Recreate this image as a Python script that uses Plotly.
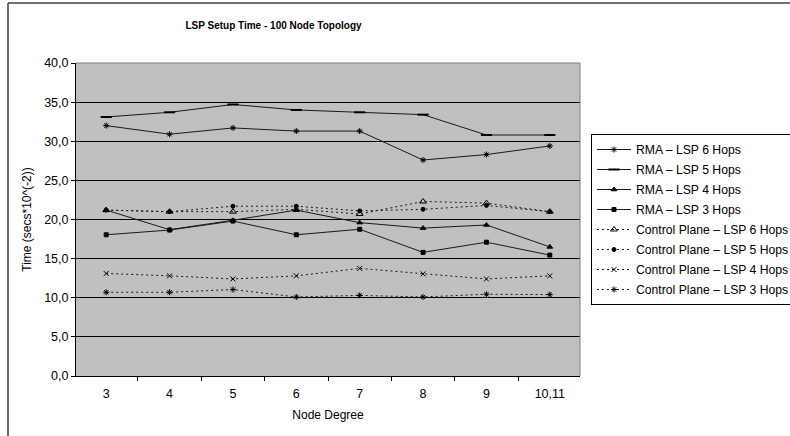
import plotly.graph_objects as go

categories = ["3", "4", "5", "6", "7", "8", "9", "10,11"]

rma_6 = [32.0, 30.9, 31.7, 31.3, 31.3, 27.6, 28.3, 29.4]
rma_5 = [33.1, 33.7, 34.7, 34.0, 33.7, 33.4, 30.8, 30.8]
rma_4 = [21.2, 18.7, 19.9, 21.2, 19.6, 18.9, 19.3, 16.5]
rma_3 = [18.05, 18.65, 19.8, 18.05, 18.75, 15.8, 17.1, 15.45]
cp_6 = [21.2, 21.0, 21.0, 21.3, 20.7, 22.3, 22.1, 21.0]
cp_5 = [21.2, 21.0, 21.7, 21.7, 21.1, 21.3, 21.8, 21.0]
cp_4 = [13.1, 12.8, 12.4, 12.8, 13.75, 13.05, 12.4, 12.8]
cp_3 = [10.7, 10.7, 11.05, 10.1, 10.3, 10.1, 10.45, 10.4]

series = [
    ("RMA – LSP 6 Hops", rma_6, "solid", "asterisk-open", 5),
    ("RMA – LSP 5 Hops", rma_5, "solid", "line-ew-open", 8),
    ("RMA – LSP 4 Hops", rma_4, "solid", "triangle-up", 5),
    ("RMA – LSP 3 Hops", rma_3, "solid", "square", 4),
    ("Control Plane – LSP 6 Hops", cp_6, "dot", "triangle-up-open", 6),
    ("Control Plane – LSP 5 Hops", cp_5, "dot", "circle", 4),
    ("Control Plane – LSP 4 Hops", cp_4, "dot", "x-thin-open", 5),
    ("Control Plane – LSP 3 Hops", cp_3, "dot", "asterisk-open", 5),
]

FONT = "Liberation Sans, Arial, sans-serif"

fig = go.Figure()
for i, (name, vals, dash, sym, size) in enumerate(series):
    fig.add_trace(go.Scatter(
        x=categories, y=vals, name=name, mode="lines+markers",
        legendgroup=f"g{i}",
        line=dict(color="#1a1a1a", width=1, dash=("2px,3px" if dash == "dot" else "solid")),
        marker=dict(symbol=sym, size=size, color="#000000",
                    line=dict(color="#000000", width=2 if "line-ew" in sym else 1)),
    ))

L, R, T, B = 76, 210, 63, 60
W, H = 790, 436
pw, ph = W - L - R, H - T - B

fig.update_layout(
    width=W, height=H,
    margin=dict(l=L, r=R, t=T, b=B, autoexpand=False),
    paper_bgcolor="white",
    plot_bgcolor="#C0C0C0",
    separators=",.",
    font=dict(family=FONT, size=12, color="#000000"),
    title=dict(text="<b>LSP Setup Time - 100 Node Topology</b>",
               font=dict(family=FONT, size=10),
               x=(273.5 - L) / pw, xref="paper", xanchor="center",
               y=1 - 25 / H, yref="container", yanchor="middle"),
    xaxis=dict(type="category", tickson="boundaries", ticks="outside", ticklen=4,
               tickcolor="#000000", showline=True, linecolor="#000000", linewidth=1,
               showgrid=False, tickfont=dict(size=12.5), ticklabelstandoff=6,
               title=dict(text="Node Degree", font=dict(size=12), standoff=10)),
    yaxis=dict(range=[0, 40], dtick=5, tickformat=".1f", ticks="outside", ticklen=4,
               tickcolor="#000000", showline=True, linecolor="#000000", linewidth=1,
               showgrid=True, gridcolor="#000000", gridwidth=1, zeroline=False,
               tickfont=dict(size=12.5),
               title=dict(text="Time (secs*10^(-2))", font=dict(size=12), standoff=9)),
    legend=dict(xref="container", yref="container",
                x=591 / W, y=1 - 134 / H, xanchor="left", yanchor="top",
                bgcolor="white", bordercolor="#000000", borderwidth=1,
                font=dict(size=12.2), tracegroupgap=1, itemwidth=34),
    showlegend=True,
)

# plot-area top & right border (gray)
fig.add_shape(type="line", xref="paper", yref="paper", x0=0, x1=1, y0=1, y1=1,
              line=dict(color="#808080", width=1), layer="above")
fig.add_shape(type="line", xref="paper", yref="paper", x0=1, x1=1, y0=0, y1=1,
              line=dict(color="#808080", width=1), layer="above")
# outer chart-area border (left and top edges visible)
x_left = (8 - L) / pw
y_top = (H - B - 3) / ph
fig.add_shape(type="line", xref="paper", yref="paper",
              x0=x_left, x1=x_left, y0=-B / ph - 0.05, y1=y_top,
              line=dict(color="#404040", width=1.5), layer="below")
fig.add_shape(type="line", xref="paper", yref="paper",
              x0=x_left, x1=(W - L) / pw + 0.05, y0=y_top, y1=y_top,
              line=dict(color="#404040", width=1.5), layer="below")

fig.write_html("out.html")
